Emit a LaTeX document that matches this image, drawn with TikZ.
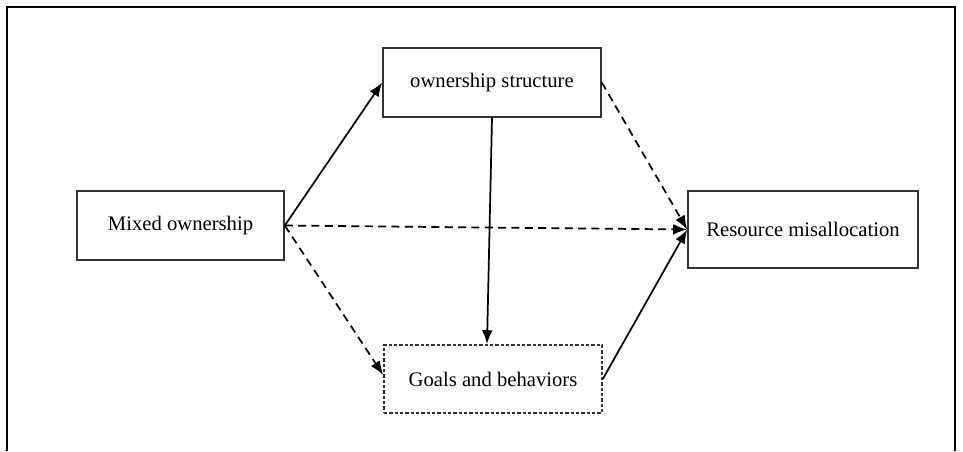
\documentclass[tikz,border=0pt]{standalone}
\usepackage{fontspec}
\setmainfont{Liberation Serif}
\usetikzlibrary{arrows.meta,calc}
\begin{document}
\begin{tikzpicture}[x=0.75pt,y=-0.75pt,
  box/.style={draw=black!80,line width=1.2pt,minimum width=#1,inner sep=0pt,font=\fontsize{15.5}{17}\selectfont},
  solidarr/.style={line width=1.3pt,-{Latex[length=10.5pt,width=8pt]}},
  dasharr/.style={line width=1.3pt,dash pattern=on 6pt off 4pt,-{Latex[length=10.5pt,width=8pt]}}]
\useasboundingbox (0,0) rectangle (963,451);
\draw[line width=1.5pt] (7,451) -- (7,7) -- (955,7) -- (955,451);
\node[box=163.5pt,minimum height=51.75pt] (own) at (492,82.5) {ownership structure};
\node[box=155.25pt,minimum height=51.75pt] (mixed) at (180.5,225.5) {Mixed ownership};
\node[box=172.5pt,minimum height=57.75pt] (res) at (803,229.5) {Resource misallocation};
\node[box=163.5pt,minimum height=51pt,dash pattern=on 2.5pt off 1.5pt] (goals) at (493,379) {Goals and behaviors};
\draw[solidarr] (mixed.east) -- (own.west);
\draw[dasharr] (mixed.east) -- (res.west);
\draw[dasharr] (mixed.east) -- ($(goals.west)+(0,-4)$);
\draw[solidarr] (own.south) -- ($(goals.north)+(-6,0)$);
\draw[dasharr] (own.east) -- (res.west);
\draw[solidarr] (goals.east) -- (res.west);
\end{tikzpicture}
\end{document}
